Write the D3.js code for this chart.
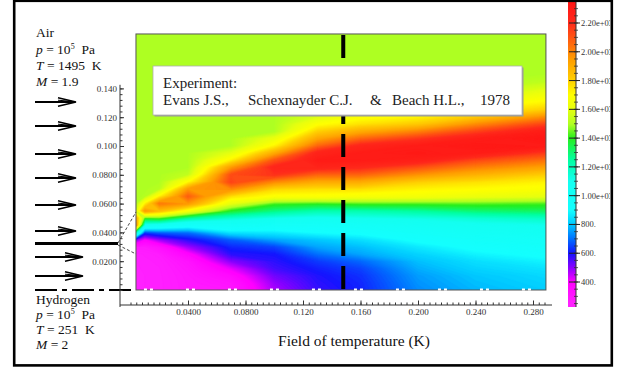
<!DOCTYPE html>
<html><head><meta charset="utf-8">
<script src="https://cdn.jsdelivr.net/npm/d3@7"></script>
<style>
html,body{margin:0;padding:0;background:#fff;}
svg{display:block;}
text{font-family:"Liberation Serif","Times New Roman",serif;}
</style></head><body>
<svg id="chart" width="620" height="367"></svg>
<script>
// ---------------- DATA ----------------
// x stations (m) of the sampled temperature profiles
const xStations = [0.0038, 0.01, 0.02, 0.04, 0.07, 0.10, 0.13, 0.16, 0.20, 0.24, 0.289];
// y levels (m) of every profile
const yLevels = [0,0.005,0.010,0.015,0.020,0.025,0.030,0.035,0.040,0.045,
  0.050,0.055,0.060,0.065,0.070,0.075,0.080,0.085,0.090,0.095,
  0.100,0.105,0.110,0.115,0.120,0.125,0.130,0.135,0.140,0.145,
  0.150,0.155,0.160,0.165,0.170,0.175,0.180];
// temperature profiles (K), bottom to top
const T_x0038 = [255,255,255,256,258,262,290,500,1200,1950,
  1900,1550,1495,1495,1495,1495,1495,1495,1495,1495,
  1495,1495,1495,1495,1495,1495,1495,1495,1495,1495,
  1495,1495,1495,1495,1495,1495,1495];
const T_x010 = [258,258,258,260,262,268,290,400,640,1050,
  1400,1950,1720,1500,1495,1495,1495,1495,1495,1495,
  1495,1495,1495,1495,1495,1495,1495,1495,1495,1495,
  1495,1495,1495,1495,1495,1495,1495];
const T_x020 = [262,262,263,265,270,280,330,480,680,1020,
  1420,1850,2020,1720,1510,1495,1495,1495,1495,1495,
  1495,1495,1495,1495,1495,1495,1495,1495,1495,1495,
  1495,1495,1495,1495,1495,1495,1495];
const T_x040 = [290,292,296,305,320,380,480,580,700,950,
  1250,1650,1950,2080,1950,1700,1530,1495,1495,1495,
  1495,1495,1495,1495,1495,1495,1495,1495,1495,1495,
  1495,1495,1495,1495,1495,1495,1495];
const T_x070 = [300,320,360,420,500,580,620,680,850,1000,
  1150,1380,1600,1760,1980,2140,2120,1950,1730,1600,
  1495,1495,1495,1495,1495,1495,1495,1495,1495,1495,
  1495,1495,1495,1495,1495,1495,1495];
const T_x100 = [470,490,520,560,580,600,650,760,860,980,
  1100,1280,1420,1680,1780,1980,2180,2230,2100,1900,
  1720,1620,1495,1495,1495,1495,1495,1495,1495,1495,
  1495,1495,1495,1495,1495,1495,1495];
const T_x130 = [570,580,590,610,640,700,760,800,900,980,
  1080,1220,1400,1680,1760,1900,2060,2230,2290,2240,
  2060,1920,1800,1690,1580,1510,1495,1495,1495,1495,
  1495,1495,1495,1495,1495,1495,1495];
const T_x160 = [615,620,630,650,690,760,790,840,920,1000,
  1100,1220,1420,1660,1760,1900,2060,2200,2290,2290,
  2230,2060,1900,1760,1680,1580,1520,1495,1495,1495,
  1495,1495,1495,1495,1495,1495,1495];
const T_x200 = [730,740,750,770,790,820,860,920,980,1040,
  1120,1250,1420,1650,1720,1800,1960,2100,2260,2310,
  2290,2170,2000,1820,1720,1620,1550,1510,1495,1495,
  1495,1495,1495,1495,1495,1495,1495];
const T_x240 = [780,790,800,820,840,880,920,970,1020,1080,
  1150,1300,1430,1620,1700,1760,1880,2000,2120,2280,
  2320,2280,2140,1980,1820,1720,1640,1560,1520,1495,
  1495,1495,1495,1495,1495,1495,1495];
const T_x289 = [810,820,830,850,880,920,960,1000,1050,1100,
  1180,1320,1420,1600,1680,1720,1800,1920,2030,2150,
  2300,2330,2280,2140,1980,1800,1720,1650,1580,1520,
  1495,1495,1495,1495,1495,1495,1495];
const profiles = [T_x0038,T_x010,T_x020,T_x040,T_x070,T_x100,T_x130,T_x160,T_x200,T_x240,T_x289];

// colour map (K -> colour)
const colorStops = [250,400,500,600,700,800,900,1100,1250,1400,1495,1600,1700,1800,1950,2100,2200,2350];
const colorValues = ["#ff22ff","#ff00ff","#8a00ff","#1414ff","#0070ff","#00c8ff","#14ffff","#14fff0","#00ffa0","#28ee1c","#afff22","#e6ff10","#ffff00","#ffd000","#ff9c00","#ff5512","#ff2a1c","#ff1414"];

const xTickValues = [0.04,0.08,0.12,0.16,0.20,0.24,0.28];
const yTickValues = [0.02,0.04,0.06,0.08,0.10,0.12,0.14];
const cbTickValues = [400,600,800,1000,1200,1400,1600,1800,2000,2200];
const cbTickLabels = ["400.","600.","800.","1.00e+03","1.20e+03","1.40e+03","1.60e+03","1.80e+03","2.00e+03","2.20e+03"];
const measureX = 0.148;         // experimental section
const fieldXDomain = [0.0038, 0.289];
const fieldYDomain = [0, 0.1778];

// ---------------- DRAW ----------------
const svg = d3.select("#chart");
const defs = svg.append("defs");
svg.append("rect").attr("width",620).attr("height",367).attr("fill","#fff");

const x = d3.scaleLinear().domain([0, 0.28]).range([130.5, 533]);
const y = d3.scaleLinear().domain([0, 0.14]).range([290, 88.4]);
const color = d3.scaleLinear().domain(colorStops).range(colorValues).interpolate(d3.interpolateRgb).clamp(true);

const fx0 = x(fieldXDomain[0]), fx1 = x(fieldXDomain[1]);
const fy0 = y(fieldYDomain[1]), fy1 = y(fieldYDomain[0]);
defs.append("clipPath").attr("id","fieldClip").append("rect")
  .attr("x",fx0).attr("y",fy0).attr("width",fx1-fx0).attr("height",fy1-fy0);

// temperature field via contours
const nx = xStations.length, ny = yLevels.length;
const values = new Array(nx*ny);
for (let j=0;j<ny;j++) for (let i=0;i<nx;i++) values[j*nx+i] = profiles[i][j];
const gx = d3.scaleLinear().domain(xStations.map((d,i)=>i+0.5)).range(xStations);
const gy = d3.scaleLinear().domain(yLevels.map((d,j)=>j+0.5)).range(yLevels);
const proj = d3.geoTransform({point:function(px,py){ this.stream.point(x(gx(px)), y(gy(py))); }});
const path = d3.geoPath(proj);
const thresholds = d3.range(250, 2340, 8);
const cont = d3.contours().size([nx,ny]).thresholds(thresholds)(values);
svg.append("g").attr("clip-path","url(#fieldClip)")
  .selectAll("path").data(cont).join("path")
  .attr("d", path)
  .attr("fill", d=>color(d.value+4))
  .attr("stroke", d=>color(d.value+4)).attr("stroke-width",0.6);

// field border
svg.append("rect").attr("x",fx0).attr("y",fy0).attr("width",fx1-fx0).attr("height",fy1-fy0)
  .attr("fill","none").attr("stroke","#555").attr("stroke-width",1);

// symmetry axis, white dash-dot inside field
svg.append("line").attr("x1",fx0).attr("x2",fx1).attr("y1",y(0)-0.5).attr("y2",y(0)-0.5)
  .attr("stroke","#fff").attr("stroke-width",2).attr("stroke-dasharray","3,3,3,33").attr("stroke-dashoffset",-8);
// black dash-dot outside
svg.append("line").attr("x1",35).attr("x2",fx0).attr("y1",y(0)).attr("y2",y(0))
  .attr("stroke","#000").attr("stroke-width",2).attr("stroke-dasharray","22,5,5,5");

// vertical measurement line
svg.append("line").attr("x1",x(measureX)).attr("x2",x(measureX)).attr("y1",35).attr("y2",fy1)
  .attr("stroke","#000").attr("stroke-width",4).attr("stroke-dasharray","23,10");

// experiment box
svg.append("rect").attr("x",154.5).attr("y",67.5).attr("width",369).attr("height",49).attr("fill","#9a9a9a");
svg.append("rect").attr("x",153).attr("y",66).attr("width",369).attr("height",49).attr("fill","#fff").attr("stroke","#b0b0b0").attr("stroke-width",0.8);
const bt = svg.append("g").attr("fill","#222").attr("font-size","15px");
bt.append("text").attr("x",163).attr("y",88).text("Experiment:");
const l2 = bt.append("text").attr("y",105);
[["Evans J.S.,",163],["Schexnayder C.J.",248],["&",370],["Beach H.L.,",392],["1978",480]].forEach(([s,px])=>{
  l2.append("tspan").attr("x",px).text(s);
});

// axes
const xAxisY = 305;
svg.append("line").attr("x1",120).attr("x2",552).attr("y1",xAxisY).attr("y2",xAxisY).attr("stroke","#333");
const xMinorG = svg.append("g").attr("transform",`translate(0,${xAxisY})`)
  .call(d3.axisBottom(x).tickValues(d3.range(0,0.2885,0.004)).tickSize(-2.5).tickFormat(""));
xMinorG.select(".domain").remove();
const xg = svg.append("g").attr("transform",`translate(0,${xAxisY})`)
  .call(d3.axisBottom(x).tickValues(xTickValues).tickFormat(d3.format(".3r")).tickSize(-4.5).tickPadding(4));
xg.select(".domain").remove();

const yAxisX = 120;
svg.append("line").attr("x1",yAxisX).attr("x2",yAxisX).attr("y1",y(0.1425)).attr("y2",307).attr("stroke","#333");
const yMinorG = svg.append("g").attr("transform",`translate(${yAxisX},0)`)
  .call(d3.axisLeft(y).tickValues(d3.range(0,0.1405,0.004)).tickSize(-2.5).tickFormat(""));
yMinorG.select(".domain").remove();
const yg = svg.append("g").attr("transform",`translate(${yAxisX},0)`)
  .call(d3.axisLeft(y).tickValues(yTickValues).tickFormat(d3.format(".3r")).tickSize(-4).tickPadding(3));
yg.select(".domain").remove();
svg.selectAll(".tick line").attr("stroke","#333");
svg.selectAll(".tick text").attr("font-family","Liberation Serif, serif").attr("font-size","9px").attr("fill","#333");

svg.append("text").attr("x",354).attr("y",346).attr("text-anchor","middle").attr("font-size","15.5px").attr("fill","#111")
  .text("Field of temperature (K)");

// left annotations
const lt = svg.append("g").attr("fill","#111").attr("font-size","13.5px");
function condBlock(name, pExp, T, M, ys){
  lt.append("text").attr("x",36).attr("y",ys[0]).text(name);
  const p = lt.append("text").attr("x",36).attr("y",ys[1]).attr("xml:space","preserve");
  p.append("tspan").attr("font-style","italic").text("p");
  p.append("tspan").text(" = 10");
  p.append("tspan").attr("font-size","8px").attr("dy",-5).text(pExp);
  p.append("tspan").attr("dy",5).text("  Pa");
  const t = lt.append("text").attr("x",36).attr("y",ys[2]).attr("xml:space","preserve");
  t.append("tspan").attr("font-style","italic").text("T");
  t.append("tspan").text(" = " + T);
  const m = lt.append("text").attr("x",36).attr("y",ys[3]).attr("xml:space","preserve");
  m.append("tspan").attr("font-style","italic").text("M");
  m.append("tspan").text(" = " + M);
}
condBlock("Air","5","1495  K","1.9",[37,54,70,86]);
condBlock("Hydrogen","5","251  K","2",[304,319,334,349]);

// arrows
const ag = svg.append("g");
function arrow(x0,x1,yy){
  ag.append("line").attr("x1",x0).attr("x2",x1-2).attr("y1",yy).attr("y2",yy).attr("stroke","#000").attr("stroke-width",2.2);
  ag.append("path").attr("d",`M${x1-18},${yy-4.2}L${x1},${yy}L${x1-18},${yy+4.2}`)
    .attr("fill","none").attr("stroke","#000").attr("stroke-width",1.5);
  ag.append("line").attr("x1",x1-18).attr("x2",x1-4).attr("y1",yy-1.8).attr("y2",yy-0.6).attr("stroke","#000").attr("stroke-width",1);
}
[102,126,154,178,205,231].forEach(v=>arrow(35,76,v));
[257,276].forEach(v=>arrow(35,83,v));
// splitter plate + zoom lines
ag.append("line").attr("x1",35).attr("x2",118).attr("y1",243.5).attr("y2",243.5).attr("stroke","#000").attr("stroke-width",2.8);
ag.append("path").attr("d","M118,243L136,212").attr("stroke","#333").attr("stroke-width",0.9).attr("stroke-dasharray","3,2").attr("fill","none");
ag.append("path").attr("d","M118,245L136,254").attr("stroke","#333").attr("stroke-width",0.9).attr("stroke-dasharray","3,2").attr("fill","none");

// colour bar
const cb = d3.scaleLinear().domain([400,2200]).range([282,23]);
const cbX = 568, cbW = 8, cbTop = 0, cbBot = 307;
const grad = defs.append("linearGradient").attr("id","cbGrad").attr("gradientUnits","userSpaceOnUse")
  .attr("x1",0).attr("x2",0).attr("y1",cbTop).attr("y2",cbBot);
const gstops = d3.range(cb.invert(cbTop), cb.invert(cbBot)-1, -10);
gstops.forEach(v=>grad.append("stop").attr("offset",(cb(v)-cbTop)/(cbBot-cbTop)).attr("stop-color",color(v)));
svg.append("rect").attr("x",cbX).attr("y",cbTop).attr("width",cbW).attr("height",cbBot-cbTop).attr("fill","url(#cbGrad)");
svg.append("line").attr("x1",cbX+cbW).attr("x2",cbX+cbW).attr("y1",cbTop).attr("y2",cbBot).attr("stroke","#333").attr("stroke-width",1);
const cbg = svg.append("g");
d3.range(250, 2360, 50).forEach(v=>{
  cbg.append("line").attr("x1",cbX+cbW-2).attr("x2",cbX+cbW+2).attr("y1",cb(v)).attr("y2",cb(v)).attr("stroke","#333").attr("stroke-width",0.8);
});
defs.append("clipPath").attr("id","cbClip").append("rect").attr("x",0).attr("y",0).attr("width",610).attr("height",367);
const cbl = svg.append("g").attr("clip-path","url(#cbClip)");
cbTickValues.forEach((v,i)=>{
  cbg.append("line").attr("x1",cbX+1).attr("x2",cbX+cbW+4).attr("y1",cb(v)).attr("y2",cb(v)).attr("stroke","#222").attr("stroke-width",1);
  cbl.append("text").attr("x",cbX+cbW+5).attr("y",cb(v)+3).attr("font-size","8.5px").attr("fill","#333").text(cbTickLabels[i]);
});

// outer frame
svg.append("rect").attr("x",14.2).attr("y",0.8).attr("width",597.6).attr("height",364.6)
  .attr("fill","none").attr("stroke","#000").attr("stroke-width",2.6);
</script>
</body></html>
